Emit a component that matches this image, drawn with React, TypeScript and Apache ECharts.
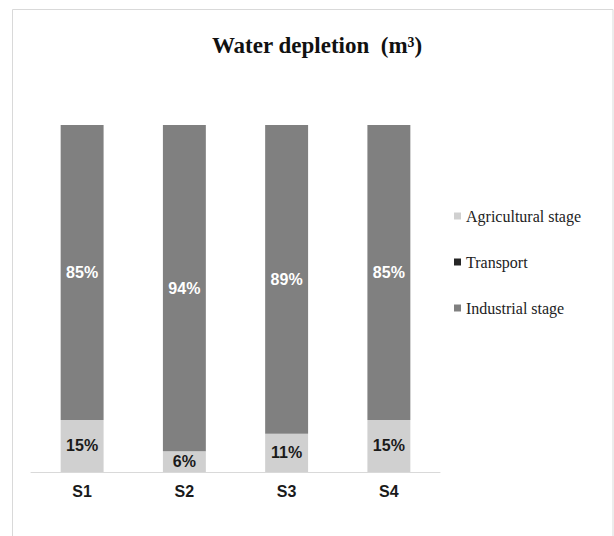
import React, { useEffect, useRef } from "react";
import * as echarts from "echarts";

const categories = ["S1", "S2", "S3", "S4"];
const agricultural = [15, 6, 11, 15];
const transport = [0, 0, 0, 0];
const industrial = [85, 94, 89, 85];
const seriesNames = ["Agricultural stage", "Transport", "Industrial stage"];

const SERIF = "'Liberation Serif', 'Times New Roman', serif";
const SANS = "'Liberation Sans', Arial, sans-serif";

const pctLabel = (color: string) => ({
  show: true,
  position: "inside" as const,
  formatter: (p: any) => (p.value > 0 ? `${p.value}%` : ""),
  color,
  fontFamily: SANS,
  fontWeight: "bold" as const,
  fontSize: 16,
});

export default function App() {
  const ref = useRef<HTMLDivElement>(null);

  useEffect(() => {
    if (!ref.current) return;
    const chart = echarts.init(ref.current, undefined, { renderer: "svg" });
    chart.setOption({
      animation: false,
      backgroundColor: "#ffffff",
      title: {
        text: "Water depletion  (m³)",
        left: 312,
        textAlign: "center",
        top: 29,
        textStyle: {
          fontFamily: SERIF,
          fontWeight: "bold",
          fontSize: 23,
          color: "#111",
        },
      },
      graphic: [
        {
          type: "rect",
          shape: { x: 12.5, y: 9.5, width: 600.5, height: 560 },
          style: { fill: "none", stroke: "#d9d9d9", lineWidth: 1 },
          silent: true,
        },
      ],
      legend: {
        orient: "vertical",
        left: 449,
        top: 203,
        itemWidth: 7,
        itemHeight: 7,
        itemGap: 30,
        icon: "rect",
        data: seriesNames,
        textStyle: {
          fontFamily: SERIF,
          fontSize: 16,
          color: "#222",
        },
      },
      grid: { left: 31, right: 174, top: 125, bottom: 64 },
      xAxis: {
        type: "category",
        data: categories,
        axisLine: { lineStyle: { color: "#d9d9d9", width: 1 } },
        axisTick: { show: false },
        axisLabel: {
          margin: 11,
          fontFamily: SANS,
          fontWeight: "bold",
          fontSize: 16,
          color: "#1a1a1a",
        },
      },
      yAxis: {
        type: "value",
        min: 0,
        max: 100,
        show: false,
        splitLine: { show: false },
      },
      series: [
        {
          name: seriesNames[0],
          type: "bar",
          stack: "total",
          data: agricultural,
          barWidth: "42%",
          itemStyle: { color: "#d0d0d0" },
          label: pctLabel("#1a1a1a"),
        },
        {
          name: seriesNames[1],
          type: "bar",
          stack: "total",
          data: transport,
          barWidth: "42%",
          itemStyle: { color: "#262626" },
          label: { show: false },
        },
        {
          name: seriesNames[2],
          type: "bar",
          stack: "total",
          data: industrial,
          barWidth: "42%",
          itemStyle: { color: "#808080" },
          label: pctLabel("#ffffff"),
        },
      ],
    });
    return () => chart.dispose();
  }, []);

  return (
    <div
      ref={ref}
      style={{ position: "fixed", left: 0, top: 0, width: 614, height: 536 }}
    />
  );
}
